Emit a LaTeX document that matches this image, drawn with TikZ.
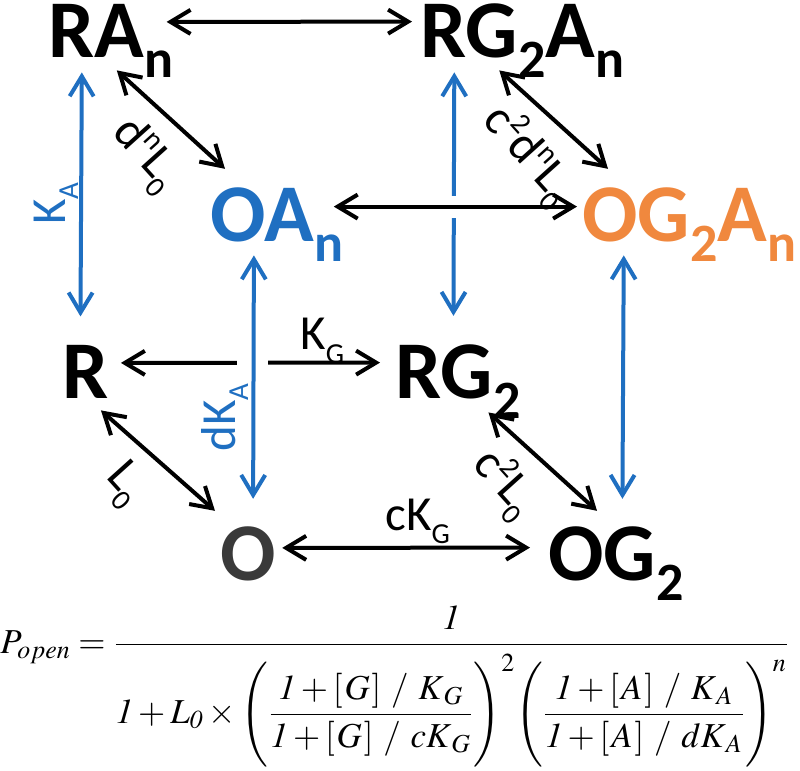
\documentclass[tikz,border=0pt]{standalone}
\usepackage{mathptmx}
\usepackage[no-math]{fontspec}
\setmainfont{Carlito}
\usepackage{xcolor}
\definecolor{mwcblue}{HTML}{1F6FC1}
\definecolor{mwcorange}{HTML}{F0883E}
\definecolor{mwcgray}{HTML}{3A3A3A}
\usepackage{tikz}
\usetikzlibrary{arrows.meta,calc}
\newcommand\bigsub[1]{\raisebox{-10pt}{\fontsize{27}{27}\selectfont #1}}
\newcommand\lblsub[1]{\raisebox{-6.5pt}{\fontsize{14.5}{14.5}\selectfont #1}}
\newcommand\lblsup[1]{\raisebox{9pt}{\fontsize{14.5}{14.5}\selectfont #1}}
\newcommand\brk[1]{[\mkern1mu#1\mkern1mu]\mkern5mu/\mkern5mu}

\begin{document}
\begin{tikzpicture}[x=0.5pt,y=-0.5pt,
  state/.style={font=\bfseries\fontsize{41}{41}\selectfont,inner sep=0pt,anchor=base west},
  lbl/.style={font=\fontsize{24.5}{24.5}\selectfont,inner sep=0pt},
  arr/.style={{Straight Barb[length=10pt,width=12pt]}-{Straight Barb[length=10pt,width=12pt]},line width=2pt},
  blu/.style={arr,draw=mwcblue}]
\useasboundingbox (0,0) rectangle (800,771);
% top layer (agonist bound)
\node[state] (RAn) at (48,57) {RA\bigsub{n}};
\node[state] (RGAn) at (420,57) {RG\bigsub{2}A\bigsub{n}};
\node[state,text=mwcblue] (OAn) at (210,242) {OA\bigsub{n}};
\node[state,text=mwcorange] (OGAn) at (582,242) {OG\bigsub{2}A\bigsub{n}};
% bottom layer
\node[state] (R) at (62,398) {R};
\node[state] (RG) at (395,398) {RG\bigsub{2}};
\node[state,text=mwcgray] (O) at (220,580) {O};
\node[state] (OG) at (548,580) {OG\bigsub{2}};
% back edges
\draw[arr] ([shift={(-7,-18.5)}]RAn.east) -- ([shift={(-8,-18.5)}]RGAn.west);
\draw[blu] ([shift={(-29,-5)}]RAn.south) -- ([shift={(-5,-28)}]R.north);
\draw[blu] ([shift={(-68,-5)}]RGAn.south) -- ([shift={(-4.5,-28)}]RG.north);
\fill[white] (444,196) rectangle (460,218);
\draw[arr] ([shift={(-10,-18.5)}]OAn.east) -- ([shift={(-5,-18.5)}]OGAn.west);
\draw[arr] ([shift={(12,-8.5)}]R.east) -- ([shift={(-15,-18.5)}]RG.west);
\fill[white] (237,355) rectangle (268,371);
\draw[blu] ([shift={(-23,-7)}]OAn.south) -- ([shift={(5,-27)}]O.north);
\draw[blu] ([shift={(-65.5,-7)}]OGAn.south) -- ([shift={(6.5,-27)}]OG.north);
\draw[arr] ([shift={(6,-5.5)}]O.east) -- ([shift={(-18,-15.5)}]OG.west);
% diagonal edges
\draw[arr] ([shift={(6,-7)}]RAn.south) -- ([shift={(15,-19)}]OAn.north west);
\draw[arr] ([shift={(-23,-7)}]RGAn.south) -- ([shift={(26,-19)}]OGAn.north west);
\draw[arr] ([shift={(-8,12)}]R.south east) -- ([shift={(-5,-15)}]O.north west);
\draw[arr] ([shift={(30.5,-6)}]RG.south) -- ([shift={(49,-15)}]OG.north west);
% rate labels
\node[lbl,text=mwcblue,rotate=90,anchor=base west] (ka) at (65,225) {K\lblsub{A}};
\node[lbl,text=mwcblue,rotate=90,anchor=base west] (dka) at (235,452) {dK\lblsub{A}};
\node[lbl,anchor=base west] (kg) at (300,350) {K\lblsub{G}};
\node[lbl,anchor=base west] (ckg) at (385,530) {cK\lblsub{G}};
\node[lbl,rotate=-48] (dl) at (145,155) {d\lblsup{n}L\lblsub{0}};
\node[lbl,rotate=-48] (cdl) at (528,155) {c\lblsup{2}d\lblsup{n}L\lblsub{0}};
\node[lbl,rotate=-48] (l0) at (124,485) {L\lblsub{0}};
\node[lbl,rotate=-48] (cl) at (504,484) {c\lblsup{2}L\lblsub{0}};
% open probability
\node[anchor=base west,inner sep=0pt,font=\fontsize{17.5}{26}\selectfont] (popen) at (0,653)
  {$\displaystyle P_{open} = \frac{\mathit{1}}{\rule{0pt}{37pt}\displaystyle
   \mathit{1} + L_{\mathit{0}} \times
   \Biggl(\frac{\mathit{1} + \brk{G}K_{\mkern2mu G}}{\mathit{1} + \brk{G}cK_{\mkern2mu G}}\Biggr)^{2}
   \Biggl(\frac{\mathit{1} + \brk{A}K_{\mkern2mu A}}{\mathit{1} + \brk{A}dK_{\mkern2mu A}}\Biggr)^{n}}$};
\end{tikzpicture}
\end{document}
